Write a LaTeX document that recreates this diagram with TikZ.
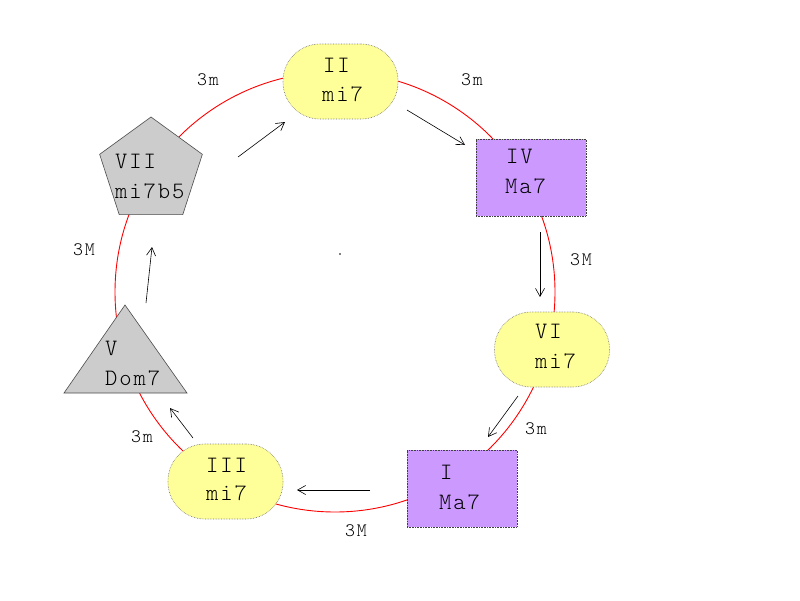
\documentclass[tikz,border=0pt]{standalone}
\usepackage{fontspec}
\newfontfamily\lightmono{lmmonolt10-regular}[Extension=.otf]
\usetikzlibrary{arrows.meta,shapes.geometric}
\definecolor{nodeyellow}{RGB}{255,255,153}
\definecolor{nodepurple}{RGB}{204,153,255}
\definecolor{nodegray}{RGB}{204,204,204}
\definecolor{ringred}{RGB}{255,0,0}
\tikzset{
  stadium/.style={rectangle, rounded corners=37pt, minimum width=115pt, minimum height=75pt, fill=nodeyellow, draw=black!55, densely dotted, line width=0.6pt, inner sep=0pt},
  chordbox/.style={rectangle, minimum width=110pt, minimum height=77pt, fill=nodepurple, draw=black!75, densely dotted, line width=0.6pt, inner sep=0pt},
  pent/.style={regular polygon, regular polygon sides=5, minimum size=108pt, fill=nodegray, draw=black!70, line width=0.6pt, inner sep=0pt},
  chordtxt/.style={anchor=base west, inner sep=0pt, font=\lightmono\fontsize{23.5}{28}\selectfont\addfontfeatures{LetterSpace=8}},
  intlabel/.style={inner sep=0pt, font=\lightmono\fontsize{19}{23}\selectfont\addfontfeatures{LetterSpace=9}},
  stepline/.style={draw=black, line width=0.6pt, -{Straight Barb[length=8pt,width=9pt]}},
  ring/.style={draw=ringred, line width=0.9pt}
}
\begin{document}
\begin{tikzpicture}[x=1pt,y=-1pt]
\useasboundingbox (0,0) rectangle (800,600);
\fill[white] (0,0) rectangle (800,600);
% ring
\draw[ring] (335,292) circle[radius=220pt];
\fill (340,254) circle[radius=0.8pt];
% shapes
\node[stadium] (II) at (340.5,81.5) {};
\node[chordbox] (IV) at (531,177.5) {};
\node[stadium] (VI) at (552,349.5) {};
\node[chordbox] (I) at (462,488.5) {};
\node[stadium] (III) at (225.5,481.5) {};
\node[pent] (VII) at (151,171) {};
\coordinate (V) at (125,363);
\draw[fill=nodegray, draw=black!70, line width=0.6pt] (125,305) -- (64,393) -- (187,393) -- cycle;
% texts
\node[chordtxt] (IIa) at (323,72) {II};
\node[chordtxt] (IIb) at (322,101) {mi7};
\node[chordtxt] (IVa) at (506,163) {IV};
\node[chordtxt] (IVb) at (505,193) {Ma7};
\node[chordtxt] (VIa) at (535,338) {VI};
\node[chordtxt] (VIb) at (535,368) {mi7};
\node[chordtxt] (Ia) at (440,479) {I};
\node[chordtxt] (Ib) at (439,509) {Ma7};
\node[chordtxt] (IIIa) at (206,472) {III};
\node[chordtxt] (IIIb) at (206,500) {mi7};
\node[chordtxt] (VIIa) at (115,168) {VII};
\node[chordtxt] (VIIb) at (115,198) {mi7b5};
\node[chordtxt] (Va) at (105,355) {V};
\node[chordtxt] (Vb) at (105,385) {Dom7};
% interval labels
\node[intlabel] (l1) at (208,80) {3m};
\node[intlabel] (l2) at (472,80) {3m};
\node[intlabel] (l3) at (581,259.5) {3M};
\node[intlabel] (l4) at (536,429) {3m};
\node[intlabel] (l5) at (356,531) {3M};
\node[intlabel] (l6) at (142,437) {3m};
\node[intlabel] (l7) at (84,250) {3M};
% arrows
\coordinate (s1) at (238,157); \coordinate (e1) at (285,122);
\coordinate (s2) at (407,110); \coordinate (e2) at (465,145);
\coordinate (s3) at (540,232); \coordinate (e3) at (540,297);
\coordinate (s4) at (518,396); \coordinate (e4) at (488,437);
\coordinate (s5) at (370,490); \coordinate (e5) at (297,490);
\coordinate (s6) at (193,438); \coordinate (e6) at (170,408);
\coordinate (s7) at (146,303); \coordinate (e7) at (152,247);
\draw[stepline] (s1) -- (e1);
\draw[stepline] (s2) -- (e2);
\draw[stepline] (s3) -- (e3);
\draw[stepline] (s4) -- (e4);
\draw[stepline] (s5) -- (e5);
\draw[stepline] (s6) -- (e6);
\draw[stepline] (s7) -- (e7);
\end{tikzpicture}
\end{document}
